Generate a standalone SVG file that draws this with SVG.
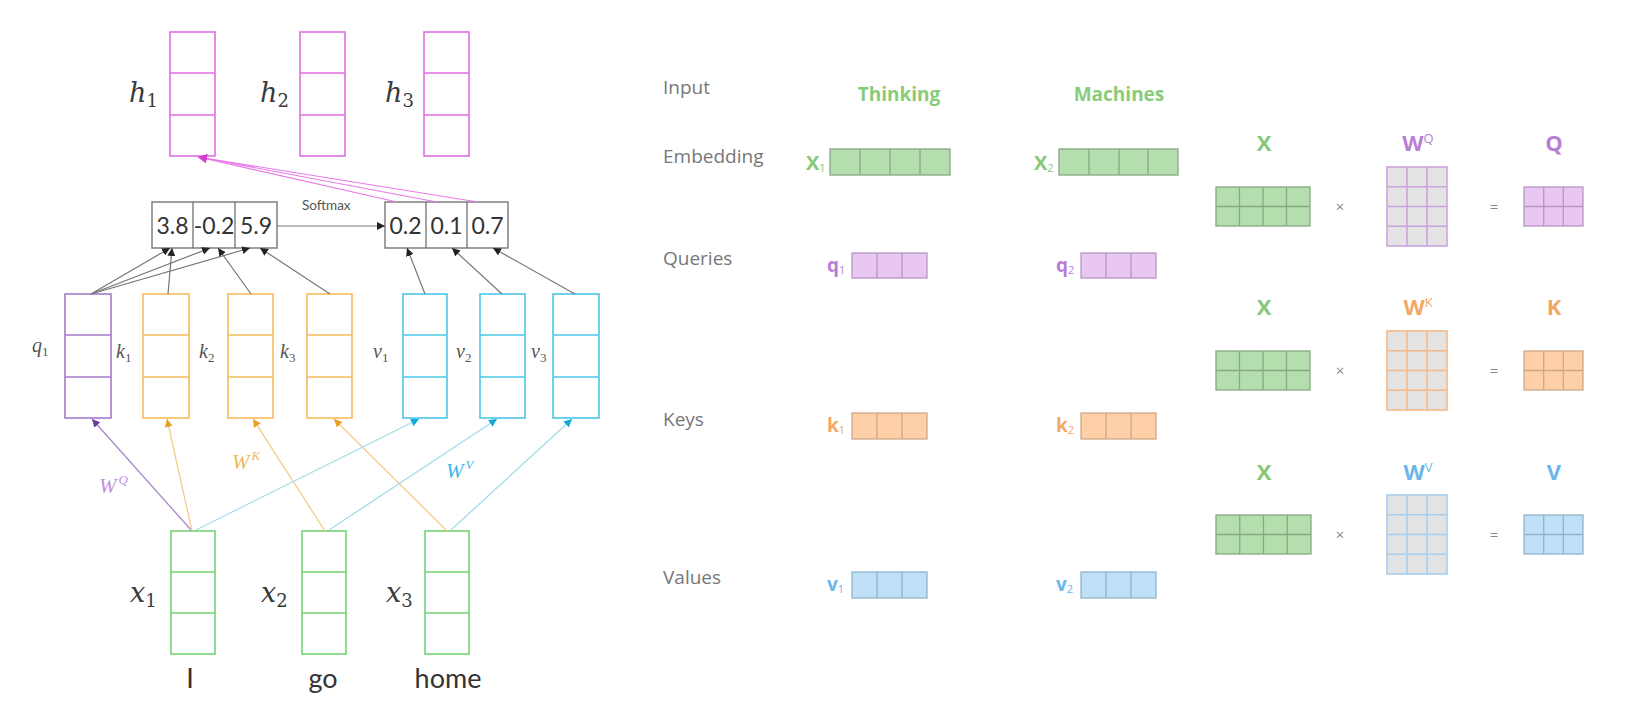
<svg xmlns="http://www.w3.org/2000/svg" width="1631" height="705" viewBox="0 0 1631 705">
<defs>
<style>
.bx{fill:none;stroke-width:1.6}
.pk{stroke:#e06ee0}.pu{stroke:#a57ac8}.or{stroke:#f4bd5c}.cy{stroke:#4cc6e8}.gr{stroke:#74d474}
.math{font-family:"DejaVu Serif","Liberation Serif",serif;font-style:italic;fill:#3a3a3a}
.maths{font-family:"Liberation Serif","DejaVu Serif",serif;font-style:italic;fill:#555}
.sub{font-style:normal}
.num{font-family:Lato,"Open Sans",sans-serif;font-size:23px;fill:#333;text-anchor:middle}
.sbox{fill:#fff;stroke:#777;stroke-width:1.4}
.gl{stroke:#666;stroke-width:1.2;fill:none}
.word{font-family:Lato,"Open Sans",sans-serif;font-size:27px;fill:#333;text-anchor:middle}
.lab{font-family:"Open Sans","Liberation Sans",sans-serif;font-size:19px;fill:#777}
.hd{font-family:"Open Sans","Liberation Sans",sans-serif;font-weight:bold}
.cg{fill:#b5deaf;stroke:#86a882;stroke-width:1.3}
.cp{fill:#e8c8f2;stroke:#b597c4;stroke-width:1.3}
.co{fill:#fdd0a8;stroke:#d0a888;stroke-width:1.3}
.cb{fill:#c0e0f8;stroke:#90b4cc;stroke-width:1.3}
.ln-g{stroke:#86a882;stroke-width:1.3}
.ln-p{stroke:#b597c4;stroke-width:1.3}
.ln-o{stroke:#d0a888;stroke-width:1.3}
.ln-b{stroke:#90b4cc;stroke-width:1.3}
.wg{fill:#e3e3e3;stroke-width:1.6}
.op{font-family:"Open Sans","Liberation Sans",sans-serif;font-size:15px;fill:#888;text-anchor:middle}
</style>
<marker id="ag" viewBox="0 0 10 10" refX="10" refY="5" markerWidth="8" markerHeight="8" markerUnits="userSpaceOnUse" orient="auto"><path d="M0,0L10,5L0,10z" fill="#222"/></marker>
<marker id="ap" viewBox="0 0 10 10" refX="10" refY="5" markerWidth="9" markerHeight="9" markerUnits="userSpaceOnUse" orient="auto"><path d="M0,0L10,5L0,10z" fill="#d040d0"/></marker>
<marker id="au" viewBox="0 0 10 10" refX="10" refY="5" markerWidth="8" markerHeight="8" markerUnits="userSpaceOnUse" orient="auto"><path d="M0,0L10,5L0,10z" fill="#6a3aa0"/></marker>
<marker id="ao" viewBox="0 0 10 10" refX="10" refY="5" markerWidth="8" markerHeight="8" markerUnits="userSpaceOnUse" orient="auto"><path d="M0,0L10,5L0,10z" fill="#e8a020"/></marker>
<marker id="ac" viewBox="0 0 10 10" refX="10" refY="5" markerWidth="8" markerHeight="8" markerUnits="userSpaceOnUse" orient="auto"><path d="M0,0L10,5L0,10z" fill="#10a8d8"/></marker>
</defs>
<rect width="1631" height="705" fill="#fff"/>

<!-- h outputs -->
<g id="h1"><rect class="bx pk" x="170" y="32" width="45" height="124"/><path class="pk" stroke-width="1.6" d="M170,73H215M170,115H215"/><text class="math" x="129" y="102" font-size="27">h<tspan class="sub" font-size="18" dy="5">1</tspan></text></g>
<g id="h2"><rect class="bx pk" x="300" y="32" width="45" height="124"/><path class="pk" stroke-width="1.6" d="M300,73H345M300,115H345"/><text class="math" x="260" y="102" font-size="27">h<tspan class="sub" font-size="18" dy="5">2</tspan></text></g>
<g id="h3"><rect class="bx pk" x="424" y="32" width="45" height="124"/><path class="pk" stroke-width="1.6" d="M424,73H469M424,115H469"/><text class="math" x="385" y="102" font-size="27">h<tspan class="sub" font-size="18" dy="5">3</tspan></text></g>

<!-- score boxes -->
<g id="scores"><rect class="sbox" x="152" y="202" width="125" height="46"/><path class="gl" d="M193,202V248M235,202V248"/>
<text class="num" x="172.5" y="234">3.8</text><text class="num" x="214" y="234">-0.2</text><text class="num" x="256" y="234">5.9</text></g>
<g id="weights"><rect class="sbox" x="385" y="202" width="123" height="46"/><path class="gl" d="M426,202V248M467,202V248"/>
<text class="num" x="405.5" y="234">0.2</text><text class="num" x="446.5" y="234">0.1</text><text class="num" x="487.5" y="234">0.7</text></g>

<!-- q k v -->
<g id="q1"><rect class="bx pu" x="65" y="294" width="46" height="124"/><path class="pu" stroke-width="1.6" d="M65,335H111M65,377H111"/><text class="maths" x="32" y="352" font-size="20">q<tspan class="sub" font-size="13" dy="4">1</tspan></text></g>
<g id="k1"><rect class="bx or" x="143" y="294" width="46" height="124"/><path class="or" stroke-width="1.6" d="M143,335H189M143,377H189"/><text class="maths" x="116" y="358" font-size="20">k<tspan class="sub" font-size="13" dy="4">1</tspan></text></g>
<g id="k2"><rect class="bx or" x="228" y="294" width="45" height="124"/><path class="or" stroke-width="1.6" d="M228,335H273M228,377H273"/><text class="maths" x="199" y="358" font-size="20">k<tspan class="sub" font-size="13" dy="4">2</tspan></text></g>
<g id="k3"><rect class="bx or" x="307" y="294" width="45" height="124"/><path class="or" stroke-width="1.6" d="M307,335H352M307,377H352"/><text class="maths" x="280" y="358" font-size="20">k<tspan class="sub" font-size="13" dy="4">3</tspan></text></g>
<g id="v1"><rect class="bx cy" x="403" y="294" width="44" height="124"/><path class="cy" stroke-width="1.6" d="M403,335H447M403,377H447"/><text class="maths" x="373" y="358" font-size="20">v<tspan class="sub" font-size="13" dy="4">1</tspan></text></g>
<g id="v2"><rect class="bx cy" x="480" y="294" width="45" height="124"/><path class="cy" stroke-width="1.6" d="M480,335H525M480,377H525"/><text class="maths" x="456" y="358" font-size="20">v<tspan class="sub" font-size="13" dy="4">2</tspan></text></g>
<g id="v3"><rect class="bx cy" x="553" y="294" width="46" height="124"/><path class="cy" stroke-width="1.6" d="M553,335H599M553,377H599"/><text class="maths" x="531" y="358" font-size="20">v<tspan class="sub" font-size="13" dy="4">3</tspan></text></g>

<!-- x inputs -->
<g id="x1"><rect class="bx gr" x="171" y="531" width="44" height="123"/><path class="gr" stroke-width="1.6" d="M171,572H215M171,613H215"/><text class="math" x="130" y="602" font-size="27">x<tspan class="sub" font-size="18" dy="5">1</tspan></text><text class="word" x="190" y="688">I</text></g>
<g id="x2"><rect class="bx gr" x="302" y="531" width="44" height="123"/><path class="gr" stroke-width="1.6" d="M302,572H346M302,613H346"/><text class="math" x="261" y="602" font-size="27">x<tspan class="sub" font-size="18" dy="5">2</tspan></text><text class="word" x="323" y="688">go</text></g>
<g id="x3"><rect class="bx gr" x="425" y="531" width="44" height="123"/><path class="gr" stroke-width="1.6" d="M425,572H469M425,613H469"/><text class="math" x="386" y="602" font-size="27">x<tspan class="sub" font-size="18" dy="5">3</tspan></text><text class="word" x="448" y="688">home</text></g>

<!-- connectors -->
<g id="connectors" fill="none">
<g stroke="#777" stroke-width="1.2" marker-end="url(#ag)">
<path d="M91,294L170,248"/><path d="M91,294L210,248"/><path d="M91,294L250,248"/>
<path d="M168,294L172,248"/><path d="M251,294L218,248"/><path d="M330,294L260,248"/>
<path d="M425,294L407,248"/><path d="M502,294L452,248"/><path d="M575,294L493,248"/>
<path d="M277,226L385,226"/>
</g>
<g stroke="#e87ae8" stroke-width="1.1" marker-end="url(#ap)">
<path d="M397,202L198,157"/><path d="M437,202L198,157"/><path d="M478,202L198,157"/>
</g>
<path d="M192,531L92,419" stroke="#a887cc" stroke-width="1.3" marker-end="url(#au)"/>
<g stroke="#f6cc8a" stroke-width="1.3" marker-end="url(#ao)">
<path d="M192,531L167,419"/><path d="M325,531L253,419"/><path d="M447,531L334,419"/>
</g>
<g stroke="#a3dde9" stroke-width="1.3" marker-end="url(#ac)">
<path d="M196,530L419,419"/><path d="M329,530L497,419"/><path d="M451,530L572,419"/>
</g>
<text x="302" y="210" font-family="Lato,'Open Sans',sans-serif" font-size="13.5" fill="#555">Softmax</text>
<text class="maths" x="99" y="493" font-size="21" style="fill:#c08ee0">W<tspan font-size="13" dx="2" dy="-9">Q</tspan></text>
<text class="maths" x="232" y="469" font-size="21" style="fill:#f2b75a">W<tspan font-size="13" dx="2" dy="-9">K</tspan></text>
<text class="maths" x="446" y="478" font-size="21" style="fill:#38b8e8">W<tspan font-size="13" dx="2" dy="-9">V</tspan></text>
</g>

<!-- right: labels -->
<g id="row-labels" class="lab">
<text x="663" y="94">Input</text>
<text x="663" y="163">Embedding</text>
<text x="663" y="265">Queries</text>
<text x="663" y="426">Keys</text>
<text x="663" y="584">Values</text>
</g>
<g id="thinking">
<text class="hd" x="899" y="101" font-size="19" fill="#88cc7a" text-anchor="middle">Thinking</text>
<text class="hd" x="806" y="170" font-size="20" fill="#86c878">X<tspan font-size="11" font-weight="normal" dy="2">1</tspan></text>
<rect class="cg" x="830" y="149" width="120" height="26"/><path class="ln-g" d="M860,149V175M890,149V175M920,149V175"/>
<text class="hd" x="827" y="272" font-size="19" fill="#b87fd4">q<tspan font-size="11" font-weight="normal" dy="2">1</tspan></text>
<rect class="cp" x="852" y="253" width="75" height="25"/><path class="ln-p" d="M877,253V278M902,253V278"/>
<text class="hd" x="827" y="432" font-size="19" fill="#f2a864">k<tspan font-size="11" font-weight="normal" dy="2">1</tspan></text>
<rect class="co" x="852" y="413" width="75" height="26"/><path class="ln-o" d="M877,413V439M902,413V439"/>
<text class="hd" x="827" y="591" font-size="19" fill="#6ab6ea">v<tspan font-size="11" font-weight="normal" dy="2">1</tspan></text>
<rect class="cb" x="852" y="572" width="75" height="26"/><path class="ln-b" d="M877,572V598M902,572V598"/>
</g>
<g id="machines">
<text class="hd" x="1119" y="101" font-size="19" fill="#88cc7a" text-anchor="middle">Machines</text>
<text class="hd" x="1034" y="170" font-size="20" fill="#86c878">X<tspan font-size="11" font-weight="normal" dy="2">2</tspan></text>
<rect class="cg" x="1059" y="149" width="119" height="26"/><path class="ln-g" d="M1089,149V175M1119,149V175M1148,149V175"/>
<text class="hd" x="1056" y="272" font-size="19" fill="#b87fd4">q<tspan font-size="11" font-weight="normal" dy="2">2</tspan></text>
<rect class="cp" x="1081" y="253" width="75" height="25"/><path class="ln-p" d="M1106,253V278M1131,253V278"/>
<text class="hd" x="1056" y="432" font-size="19" fill="#f2a864">k<tspan font-size="11" font-weight="normal" dy="2">2</tspan></text>
<rect class="co" x="1081" y="413" width="75" height="26"/><path class="ln-o" d="M1106,413V439M1131,413V439"/>
<text class="hd" x="1056" y="591" font-size="19" fill="#6ab6ea">v<tspan font-size="11" font-weight="normal" dy="2">2</tspan></text>
<rect class="cb" x="1081" y="572" width="75" height="26"/><path class="ln-b" d="M1106,572V598M1131,572V598"/>
</g>

<!-- matrices -->
<g id="mat-q">
<text class="hd" x="1264" y="151" font-size="22" fill="#86c878" text-anchor="middle">X</text>
<text class="hd" x="1418" y="151" font-size="22" fill="#b87fd4" text-anchor="middle">W<tspan font-size="13" font-weight="normal" dy="-8">Q</tspan></text>
<text class="hd" x="1554" y="151" font-size="22" fill="#b87fd4" text-anchor="middle">Q</text>
<rect class="cg" x="1216" y="187" width="94" height="39"/><path class="ln-g" d="M1239.5,187V226M1263,187V226M1286.5,187V226M1216,206.5H1310"/>
<text class="op" x="1340" y="212">×</text>
<rect class="wg" x="1387" y="167" width="60" height="79" stroke="#cba4de"/><path stroke="#cba4de" stroke-width="1.6" d="M1407,167V246M1427,167V246M1387,186.75H1447M1387,206.5H1447M1387,226.25H1447"/>
<text class="op" x="1494" y="212">=</text>
<rect class="cp" x="1524" y="187" width="59" height="39"/><path class="ln-p" d="M1543.7,187V226M1563.3,187V226M1524,206.5H1583"/>
</g>
<g id="mat-k">
<text class="hd" x="1264" y="315" font-size="22" fill="#86c878" text-anchor="middle">X</text>
<text class="hd" x="1418" y="315" font-size="22" fill="#f2a864" text-anchor="middle">W<tspan font-size="13" font-weight="normal" dy="-8">K</tspan></text>
<text class="hd" x="1554" y="315" font-size="22" fill="#f2a864" text-anchor="middle">K</text>
<rect class="cg" x="1216" y="351" width="94" height="39"/><path class="ln-g" d="M1239.5,351V390M1263,351V390M1286.5,351V390M1216,370.5H1310"/>
<text class="op" x="1340" y="376">×</text>
<rect class="wg" x="1387" y="331" width="60" height="79" stroke="#f4b888"/><path stroke="#f4b888" stroke-width="1.6" d="M1407,331V410M1427,331V410M1387,350.75H1447M1387,370.5H1447M1387,390.25H1447"/>
<text class="op" x="1494" y="376">=</text>
<rect class="co" x="1524" y="351" width="59" height="39"/><path class="ln-o" d="M1543.7,351V390M1563.3,351V390M1524,370.5H1583"/>
</g>
<g id="mat-v">
<text class="hd" x="1264" y="480" font-size="22" fill="#86c878" text-anchor="middle">X</text>
<text class="hd" x="1418" y="480" font-size="22" fill="#6ab6ea" text-anchor="middle">W<tspan font-size="13" font-weight="normal" dy="-8">V</tspan></text>
<text class="hd" x="1554" y="480" font-size="22" fill="#6ab6ea" text-anchor="middle">V</text>
<rect class="cg" x="1216" y="515" width="95" height="39"/><path class="ln-g" d="M1239.75,515V554M1263.5,515V554M1287.25,515V554M1216,534.5H1311"/>
<text class="op" x="1340" y="540">×</text>
<rect class="wg" x="1387" y="495" width="60" height="79" stroke="#a8cdee"/><path stroke="#a8cdee" stroke-width="1.6" d="M1407,495V574M1427,495V574M1387,514.75H1447M1387,534.5H1447M1387,554.25H1447"/>
<text class="op" x="1494" y="540">=</text>
<rect class="cb" x="1524" y="515" width="59" height="39"/><path class="ln-b" d="M1543.7,515V554M1563.3,515V554M1524,534.5H1583"/>
</g>
</svg>
